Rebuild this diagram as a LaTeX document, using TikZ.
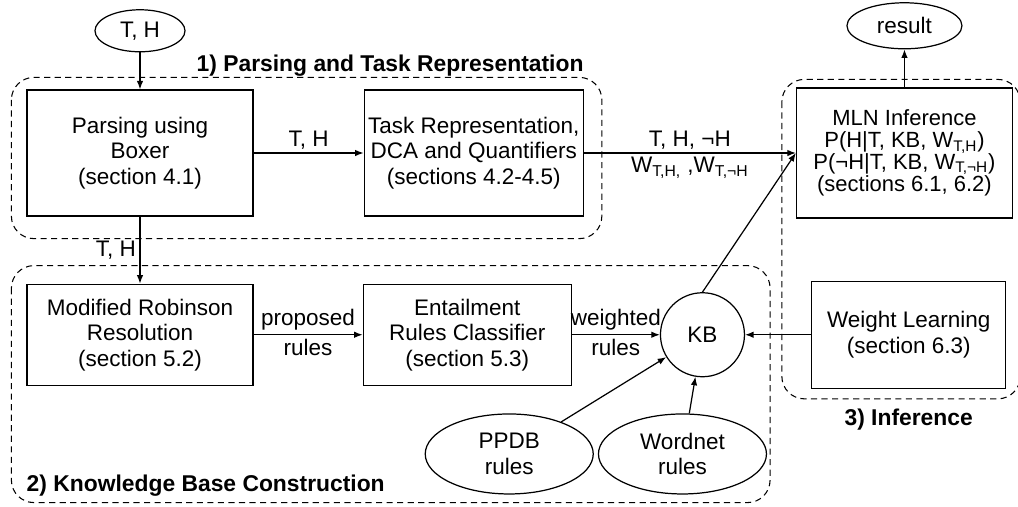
\documentclass[tikz,border=0pt]{standalone}
\usepackage{fontspec}
\setmainfont{Liberation Sans}
\usetikzlibrary{shapes.geometric, arrows.meta, positioning, calc}

\begin{document}
\begin{tikzpicture}[
    node distance=1cm,
    font=\fontsize{12.8}{14.5}\selectfont,
    stage/.style={rectangle, draw, line width=0.7pt, align=center, inner sep=2pt},
    io/.style={ellipse, draw, line width=0.7pt, align=center, inner sep=0pt},
    group/.style={draw, dash pattern=on 3.5pt off 2.5pt, line width=0.6pt, rounded corners=0.45cm},
    grouptitle/.style={font=\fontsize{13}{15}\selectfont\bfseries, inner sep=0pt},
    flow/.style={-{Latex[length=1.7mm,width=1.3mm]}, line width=0.7pt},
    lbl/.style={inner sep=2pt}
  ]
  \useasboundingbox (0,0) rectangle (20.36,-10.12);

  \node[stage, minimum width=4.52cm, minimum height=2.52cm] (parse) at (2.8,-3.06) {Parsing using\\Boxer\\(section 4.1)};
  \node[io, minimum width=1.8cm, minimum height=0.84cm, above=0.74cm of parse] (th) {T, H};
  \node[stage, minimum width=4.38cm, minimum height=2.52cm, right=2.2cm of parse] (task) {Task Representation,\\DCA and Quantifiers\\(sections 4.2-4.5)};
  \node[stage, minimum width=4.32cm, minimum height=2.6cm, right=4.24cm of task, font=\fontsize{12.5}{12.5}\selectfont] (mln) {MLN Inference\\P(H|T, KB, W\textsubscript{T,H})\\P(¬H|T, KB, W\textsubscript{T,¬H})\\(sections 6.1, 6.2)};
  \node[io, minimum width=2.3cm, minimum height=0.92cm, above=0.76cm of mln] (result) {result};

  \node[stage, minimum width=4.52cm, minimum height=2.02cm, below=1.34cm of parse] (modif) {Modified Robinson\\Resolution\\(section 5.2)};
  \node[stage, minimum width=4.16cm, minimum height=2.02cm, right=2.18cm of modif] (entail) {Entailment\\Rules Classifier\\(section 5.3)};
  \node[circle, draw, line width=0.7pt, minimum size=1.68cm, inner sep=0pt, right=1.76cm of entail] (kb) {KB};
  \node[stage, minimum width=3.88cm, minimum height=2.14cm, right=1.32cm of kb] (weight) {Weight Learning\\(section 6.3)};
  \node[io, minimum width=3.36cm, minimum height=1.6cm, below=0.72cm of kb, xshift=-0.4cm] (wordnet) {Wordnet\\rules};
  \node[io, minimum width=3.36cm, minimum height=1.6cm, left=0.08cm of wordnet] (ppdb) {PPDB\\rules};

  \draw[group] ($(parse.north west)+(-0.3,0.24)$) rectangle ($(task.south east)+(0.36,-0.44)$);
  \draw[group] ($(modif.north west)+(-0.3,0.36)$) rectangle ($(wordnet.east |- wordnet.south)+(0.06,-0.16)$);
  \draw[group] ($(mln.north west)+(-0.28,0.16)$) rectangle ($(weight.south east)+(0.28,-0.2)$);

  \node[grouptitle, anchor=base east] (title1) at ($(task.north east)+(0,0.36)$) {1) Parsing and Task Representation};
  \node[grouptitle, anchor=base west] (title2) at ($(modif.south west)+(0,-2.12)$) {2) Knowledge Base Construction};
  \node[grouptitle, anchor=base] (title3) at ($(weight.south)+(0,-0.74)$) {3) Inference};

  \coordinate (mlnin) at (task.east -| mln.west);

  \draw[flow] (th) -- (parse);
  \draw[flow] (parse) -- node[lbl, above] {T, H} (task);
  \draw[flow] (task.east) -- node[lbl, above] {T, H, ¬H} node[lbl, below] {W\textsubscript{T,H,} ,W\textsubscript{T,¬H}} (mlnin);
  \draw[flow] (mln) -- (result);
  \draw[flow] (parse) -- node[lbl, left] {T, H} (modif);
  \draw[flow] (modif) -- node[lbl, above] {proposed} node[lbl, below] {rules} (entail);
  \draw[flow] (entail) -- node[lbl, above] {weighted} node[lbl, below] {rules} (kb);
  \draw[flow] (weight) -- (kb);
  \draw[flow] (ppdb) -- (kb);
  \draw[flow] (wordnet) -- (kb);
  \draw[flow] (kb.north) -- (mlnin);
\end{tikzpicture}
\end{document}
